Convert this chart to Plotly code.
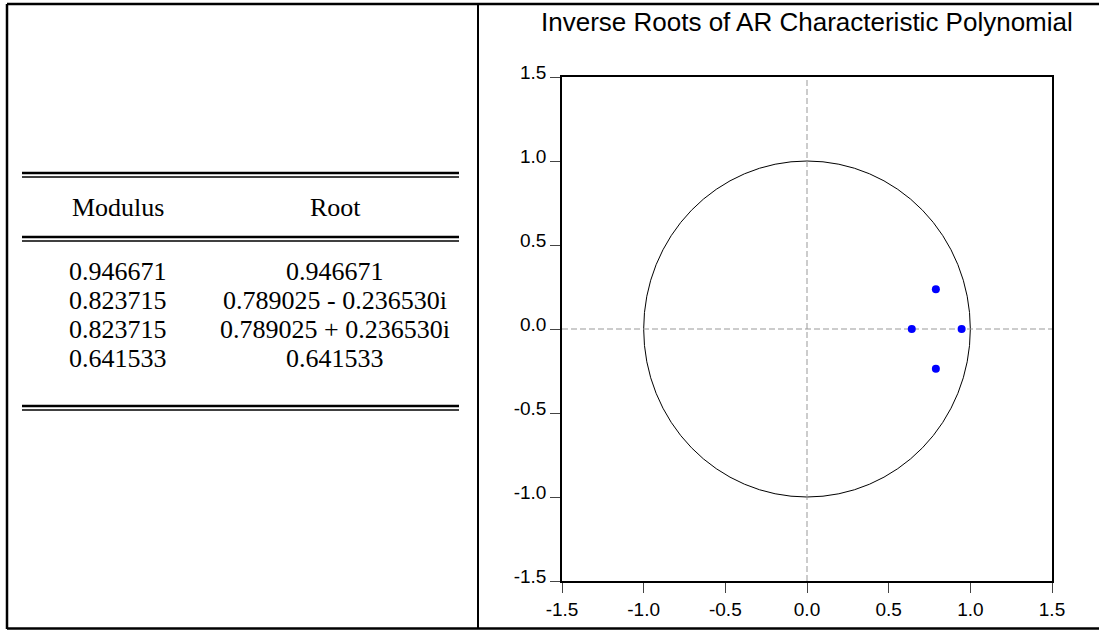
import plotly.graph_objects as go

# ---- data ----
moduli = ["0.946671", "0.823715", "0.823715", "0.641533"]
root_labels = ["0.946671", "0.789025 - 0.236530i", "0.789025 + 0.236530i", "0.641533"]
root_re = [0.946671, 0.789025, 0.789025, 0.641533]
root_im = [0.0, -0.236530, 0.236530, 0.0]
tick_vals = [-1.5, -1.0, -0.5, 0.0, 0.5, 1.0, 1.5]
tick_text = ["-1.5", "-1.0", "-0.5", "0.0", "0.5", "1.0", "1.5"]
headers = ["Modulus", "Root"]
title_text = "Inverse Roots of AR Characteristic Polynomial"

W, H = 1099, 631
PL, PR, PT, PB = 562, 1052, 77, 581  # plot area in pixels


def px(x):
    return (x - PL) / (PR - PL)


def py(y):
    return (PB - y) / (PB - PT)


fig = go.Figure()
fig.add_trace(go.Scatter(
    x=root_re, y=root_im, mode="markers",
    marker=dict(color="#0000ff", size=8, line=dict(width=0)),
    showlegend=False, hoverinfo="skip", cliponaxis=False,
))

shapes = []
# unit circle
shapes.append(dict(type="circle", xref="x", yref="y", x0=-1, x1=1, y0=-1, y1=1,
                   line=dict(color="black", width=1), layer="below"))
# dashed zero lines
shapes.append(dict(type="line", xref="x", yref="y", x0=0, x1=0, y0=-1.5, y1=1.5,
                   line=dict(color="#999999", width=1, dash="6px,3px"), layer="below"))
shapes.append(dict(type="line", xref="x", yref="y", x0=-1.5, x1=1.5, y0=0, y1=0,
                   line=dict(color="#999999", width=1, dash="6px,3px"), layer="below"))

# outer border and divider (pixel -> paper)
def pline(x0, y0, x1, y1, w=2):
    shapes.append(dict(type="line", xref="paper", yref="paper",
                       x0=px(x0), x1=px(x1), y0=py(y0), y1=py(y1),
                       line=dict(color="black", width=w)))

pline(7, 4, 1099, 4, 2.5)
pline(7, 4, 7, 629, 2.5)
pline(7, 628.5, 1099, 628.5, 2.5)
pline(478, 4, 478, 629, 2)

# table double rules
for yy in (173, 237, 406):
    pline(22, yy, 459, yy, 2.5)
    pline(22, yy + 4, 459, yy + 4, 1.5)

annotations = []
col_x = [118, 335]
serif = dict(family="Liberation Serif, Times New Roman, serif", size=26, color="black")
for cx, h in zip(col_x, headers):
    annotations.append(dict(text=h, x=px(cx), y=py(207), xref="paper", yref="paper",
                            showarrow=False, xanchor="center", yanchor="middle", font=serif))
row_y = [271, 300, 329, 358]
for ry, m, r in zip(row_y, moduli, root_labels):
    annotations.append(dict(text=m, x=px(col_x[0]), y=py(ry), xref="paper", yref="paper",
                            showarrow=False, xanchor="center", yanchor="middle", font=serif))
    annotations.append(dict(text=r, x=px(col_x[1]), y=py(ry), xref="paper", yref="paper",
                            showarrow=False, xanchor="center", yanchor="middle", font=serif))

annotations.append(dict(text=title_text, x=px(807), y=py(22), xref="paper", yref="paper",
                        showarrow=False, xanchor="center", yanchor="middle",
                        font=dict(family="Liberation Sans, Arial, sans-serif", size=26, color="black")))

axis_common = dict(
    range=[-1.5, 1.5], tickmode="array", tickvals=tick_vals, ticktext=tick_text,
    showgrid=False, zeroline=False, showline=True, linecolor="black", linewidth=1.5,
    mirror=True, ticks="outside", ticklen=10, tickwidth=1, tickcolor="#444444",
    tickfont=dict(family="Liberation Sans, Arial, sans-serif", size=19, color="black"),
    fixedrange=True,
)

fig.update_layout(
    width=W, height=H, autosize=False,
    margin=dict(l=PL, r=W - PR, t=PT, b=H - PB, pad=0),
    paper_bgcolor="white", plot_bgcolor="white",
    xaxis=axis_common, yaxis=dict(axis_common, ticklabelshift=-5),
    shapes=shapes, annotations=annotations, showlegend=False,
)

fig.write_html(
    "out.html",
    config={"displayModeBar": False},
    post_script="document.body.style.margin='0px';document.body.style.overflow='hidden';",
)
